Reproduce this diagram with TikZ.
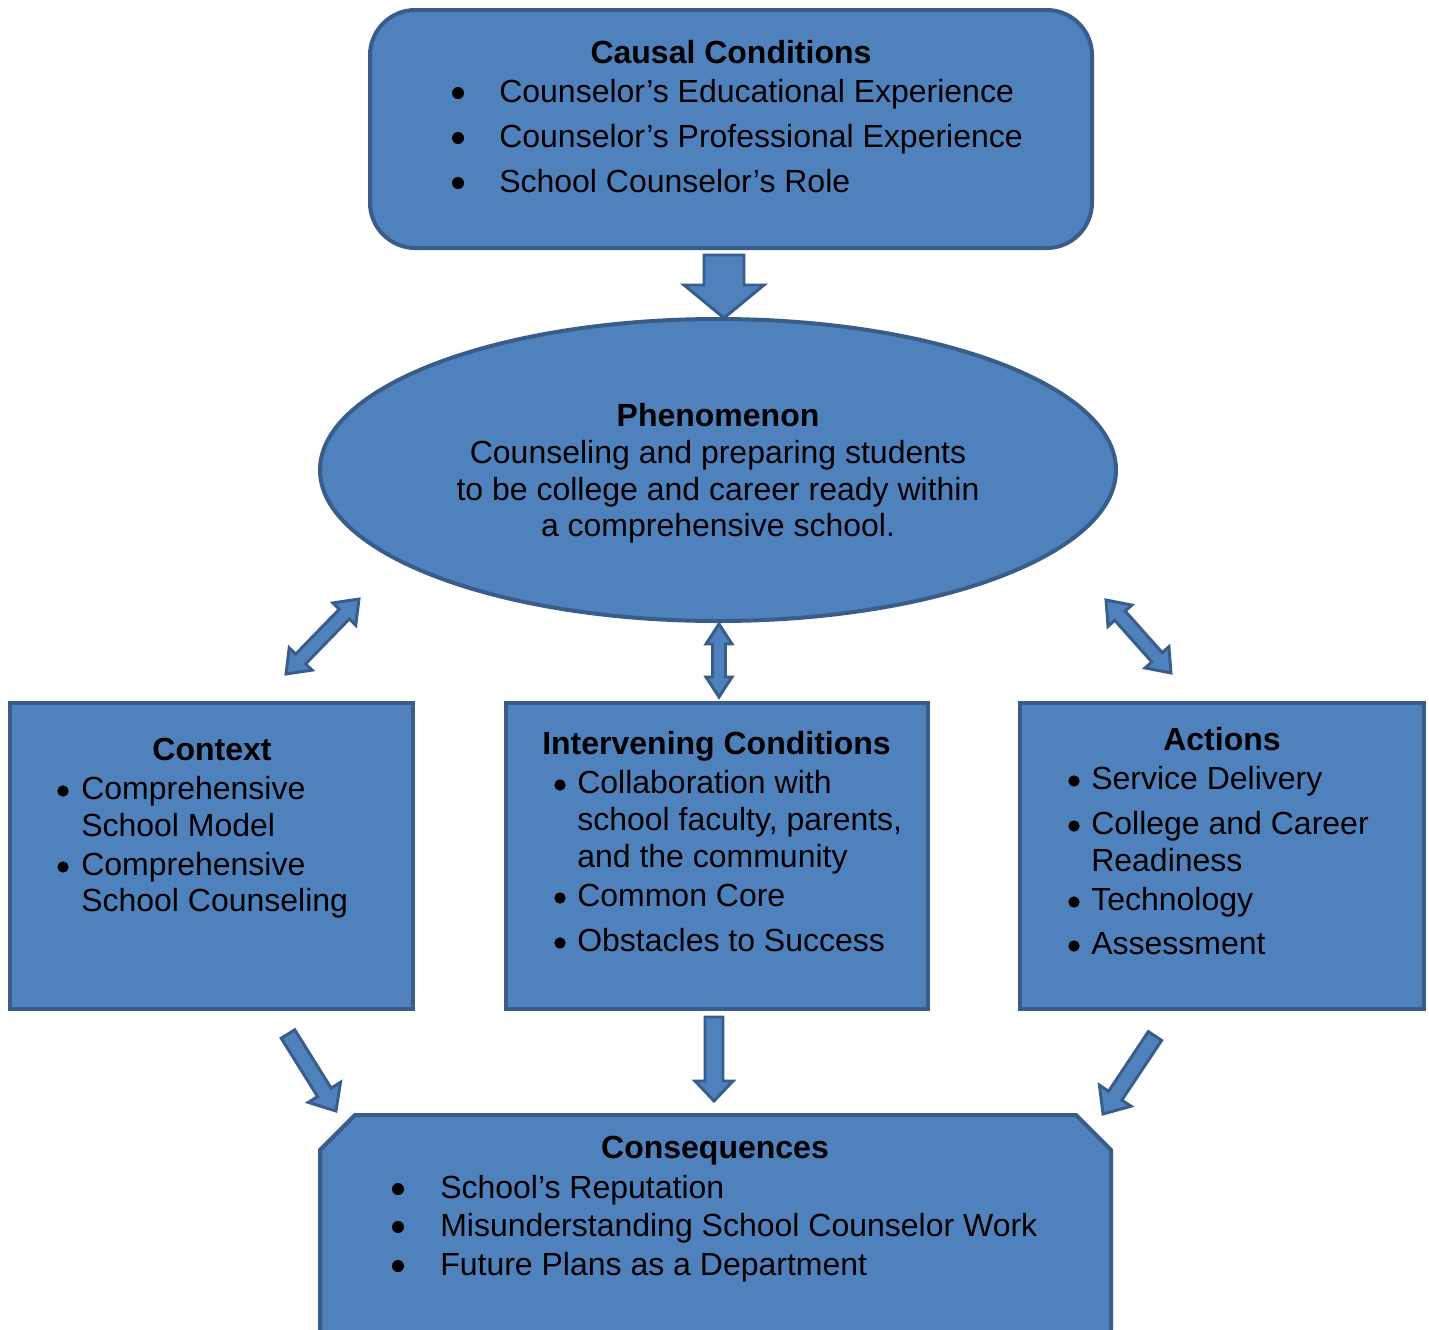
\documentclass[tikz,border=0pt]{standalone}
\usepackage{fontspec}
\setmainfont{Liberation Sans}
\definecolor{boxfill}{HTML}{4F81BD}
\definecolor{boxline}{HTML}{385D8A}
\tikzset{
  boxsty/.style={draw=boxline,fill=boxfill,line width=3pt},
  arrowsty/.style={draw=boxline,fill=boxfill,line width=2.2pt,line join=miter},
  txt/.style={inner sep=0pt,font=\fontsize{24}{28}\selectfont,text=black},
  ttl/.style={txt,font=\fontsize{24}{28}\selectfont\bfseries,anchor=base},
  itm/.style={txt,anchor=base west},
  bigdot/.style={circle,fill=black,inner sep=0pt,minimum size=9pt},
  smalldot/.style={circle,fill=black,inner sep=0pt,minimum size=8.5pt},
}
% block arrow: x1 y1 x2 y2 shaft-halfwidth head-halfwidth head-length double(1/0)
\newcommand\blkarrow[8]{%
  \pgfmathsetmacro\baang{atan2(-(#4-#2),#3-#1)}%
  \pgfmathsetmacro\balen{veclen(#3-#1,#4-#2)}%
  \begin{scope}[shift={(#1,#2)},rotate=\baang]
    \ifnum#8=1
      \draw[arrowsty] (0,0) -- (#7,#6) -- (#7,#5) -- (\balen-#7,#5) -- (\balen-#7,#6) -- (\balen,0)
        -- (\balen-#7,-#6) -- (\balen-#7,-#5) -- (#7,-#5) -- (#7,-#6) -- cycle;
    \else
      \draw[arrowsty] (0,#5) -- (\balen-#7,#5) -- (\balen-#7,#6) -- (\balen,0)
        -- (\balen-#7,-#6) -- (\balen-#7,-#5) -- (0,-#5) -- cycle;
    \fi
  \end{scope}}
\begin{document}
\begin{tikzpicture}[x=0.75pt,y=-0.75pt]
\clip (0,0) rectangle (1429,1329);
\fill[white] (0,0) rectangle (1429,1329);

% ---- Causal conditions
\draw[boxsty,rounded corners=34pt] (370,10) rectangle (1092,248);
\node[ttl] (cc) at (731,63) {Causal Conditions};
\node[bigdot] (cb1) at (458,93) {};
\node[bigdot] (cb2) at (458,138) {};
\node[bigdot] (cb3) at (458,183) {};
\node[itm] (c1) at (499,102) {Counselor’s Educational Experience};
\node[itm] (c2) at (499,147) {Counselor’s Professional Experience};
\node[itm] (c3) at (499,192) {School Counselor’s Role};

% arrow down to phenomenon
\blkarrow{724}{255}{724}{318}{20}{40}{33}{0}

% ---- Phenomenon
\draw[boxsty] (718,470) ellipse [x radius=398, y radius=151];
\node[ttl] (ph) at (718,426) {Phenomenon};
\node[txt,anchor=base] (p1) at (718,463) {Counseling and preparing students};
\node[txt,anchor=base] (p2) at (718,500) {to be college and career ready within};
\node[txt,anchor=base] (p3) at (718,536) {a comprehensive school.};

% double arrows
\blkarrow{286}{674}{359}{599}{7}{16}{21}{1}
\blkarrow{719}{624}{719}{697}{6.5}{13}{20}{1}
\blkarrow{1106}{600}{1171}{673}{7}{16}{21}{1}

% ---- Context
\draw[boxsty] (10,703) rectangle (413,1009);
\node[ttl] (ctx) at (212,760) {Context};
\node[smalldot] (xb1) at (63,791) {};
\node[smalldot] (xb2) at (63,867) {};
\node[itm] (x1) at (81,799) {Comprehensive};
\node[itm] (x2) at (81,836) {School Model};
\node[itm] (x3) at (81,875) {Comprehensive};
\node[itm] (x4) at (81,911) {School Counseling};

% ---- Intervening conditions
\draw[boxsty] (506,703) rectangle (928,1009);
\node[ttl] (ic) at (716.5,754) {Intervening Conditions};
\node[smalldot] (ib1) at (560,785) {};
\node[smalldot] (ib2) at (560,898) {};
\node[smalldot] (ib3) at (560,943) {};
\node[itm] (i1) at (577,793) {Collaboration with};
\node[itm] (i2) at (577,830) {school faculty, parents,};
\node[itm] (i3) at (577,867) {and the community};
\node[itm] (i4) at (577,906) {Common Core};
\node[itm] (i5) at (577,951) {Obstacles to Success};

% ---- Actions
\draw[boxsty] (1020,703) rectangle (1424,1009);
\node[ttl] (ac) at (1222,750) {Actions};
\node[smalldot] (ab1) at (1074,781) {};
\node[smalldot] (ab2) at (1074,826) {};
\node[smalldot] (ab3) at (1074,902) {};
\node[smalldot] (ab4) at (1074,946) {};
\node[itm] (a1) at (1091,789) {Service Delivery};
\node[itm] (a2) at (1091,834) {College and Career};
\node[itm] (a3) at (1091,871) {Readiness};
\node[itm] (a4) at (1091,910) {Technology};
\node[itm] (a5) at (1091,954) {Assessment};

% arrows down to consequences
\blkarrow{288}{1034}{336}{1111}{8}{19}{22}{0}
\blkarrow{714}{1017}{714}{1101}{9}{19}{20}{0}
\blkarrow{1155}{1036}{1103}{1114}{8}{19}{22}{0}

% ---- Consequences
\draw[boxsty] (320,1345) -- (320,1150) -- (355,1115) -- (1076,1115) -- (1111,1150) -- (1111,1345) -- cycle;
\node[ttl] (cq) at (715,1158) {Consequences};
\node[bigdot] (qb1) at (398,1189) {};
\node[bigdot] (qb2) at (398,1227) {};
\node[bigdot] (qb3) at (398,1266) {};
\node[itm] (q1) at (440,1198) {School’s Reputation};
\node[itm] (q2) at (440,1236) {Misunderstanding School Counselor Work};
\node[itm] (q3) at (440,1275) {Future Plans as a Department};
\end{tikzpicture}
\end{document}
